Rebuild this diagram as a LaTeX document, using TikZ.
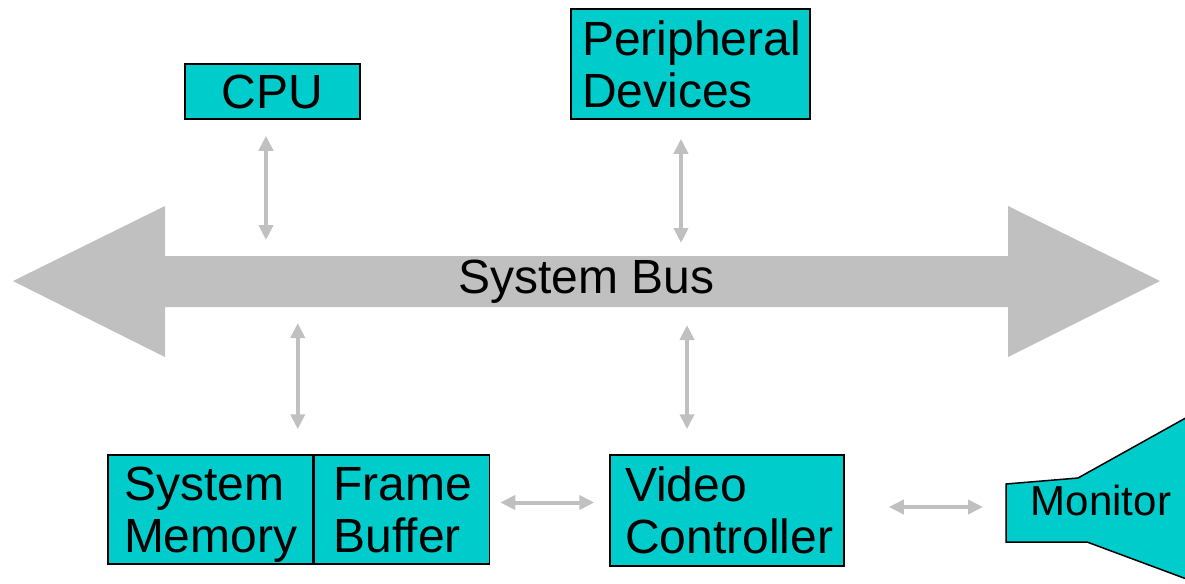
\documentclass[tikz,border=0pt]{standalone}
\usepackage{fontspec}
\setmainfont{Liberation Sans}
\usepackage{xcolor}
\definecolor{boxcyan}{HTML}{00CCCC}
\definecolor{busgray}{HTML}{C0C0C0}
\usetikzlibrary{arrows.meta}

\begin{document}
\begin{tikzpicture}[x=0.5pt,y=-0.5pt,font=\fontsize{24}{26}\selectfont,
  unit/.style={draw=black,line width=0.75pt,fill=boxcyan,align=left,
    inner ysep=0pt,text depth=26pt},
  link/.style={busgray,line width=2pt,
    {Triangle[length=7.5pt,width=7pt]}-{Triangle[length=7.5pt,width=7pt]}}]
  \useasboundingbox (0,0) rectangle (1185,584);
  % system bus, a wide double-headed arrow
  \fill[busgray] (13,281) -- (165,206) -- (165,256) -- (1008,256)
    -- (1008,206) -- (1160,281) -- (1008,357) -- (1008,307)
    -- (165,307) -- (165,357) -- cycle;
  \node[anchor=base,inner sep=0pt] (bus) at (586.5,293) {System Bus};
  \coordinate (bustop) at (586.5,256);
  \coordinate (busbot) at (586.5,307);
  % monitor, runs off the right edge
  \filldraw[fill=boxcyan,draw=black,line width=0.75pt]
    (1006,484) -- (1078,478) -- (1200,410) -- (1200,584)
    -- (1087,542) -- (1006,542) -- cycle;
  \coordinate (monitorin) at (1006,507);
  \node[anchor=base,font=\fontsize{21}{24}\selectfont] (monitor)
    at (1101,515) {Monitor};
  % units on the bus
  \node[unit,minimum width=87.5pt,minimum height=27.5pt,align=center,
    text depth=0pt] (cpu) at (272.5,91.5) {CPU};
  \node[unit,minimum width=119.5pt,minimum height=55pt,inner xsep=5.5pt,
    text width=108.5pt] (periph) at (690.5,64) {Peripheral\\Devices};
  \node[unit,minimum width=102.5pt,minimum height=54.5pt,inner xsep=8pt,
    text width=86.5pt] (memory) at (210.5,509.5) {System\\Memory};
  \node[unit,anchor=west,minimum width=87.5pt,minimum height=54.5pt,
    inner xsep=9.5pt,text width=68.5pt] (frame) at (memory.east)
    {Frame\\Buffer};
  \node[unit,minimum width=117pt,minimum height=55.5pt,inner xsep=7.5pt,
    text width=102pt] (video) at (727,510.5) {Video\\Controller};
  % connectors
  \draw[link,shorten <=8pt,shorten >=8pt] ([xshift=-3.25pt]cpu.south)
    -- ([xshift=-3.25pt]cpu.south |- bustop);
  \draw[link,shorten <=9.5pt,shorten >=6.5pt] ([xshift=-4.75pt]periph.south)
    -- ([xshift=-4.75pt]periph.south |- bustop);
  \draw[link,shorten <=8pt,shorten >=12.5pt]
    ([xshift=-8pt]memory.north east |- busbot)
    -- ([xshift=-8pt]memory.north east);
  \draw[link,shorten <=9pt,shorten >=12.5pt]
    ([xshift=-20pt]video.north |- busbot) -- ([xshift=-20pt]video.north);
  \draw[link,shorten <=5pt,shorten >=7.5pt] ([yshift=3.5pt]frame.east)
    -- ([yshift=3.5pt]frame.east -| video.west);
  \draw[link,shorten <=22pt,shorten >=11.5pt] (video.east |- monitorin)
    -- (monitorin);
\end{tikzpicture}
\end{document}
